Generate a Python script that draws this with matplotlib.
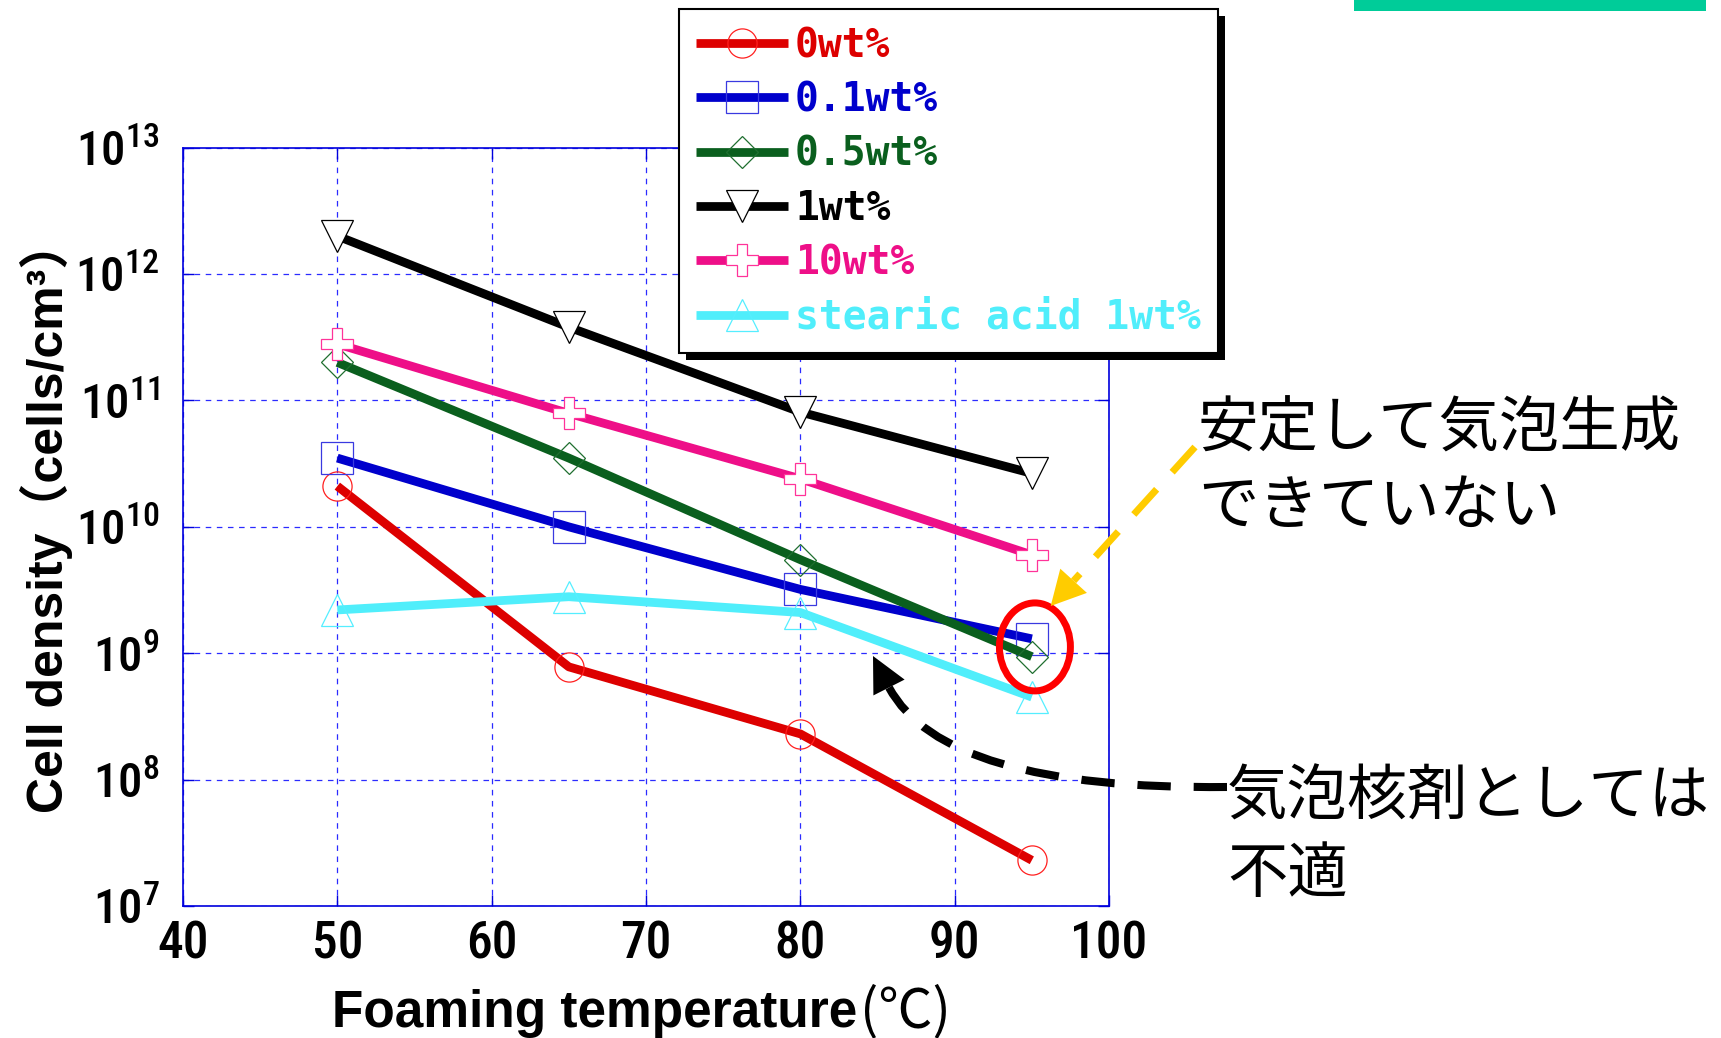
import matplotlib
matplotlib.use("Agg")
import matplotlib.pyplot as plt
from matplotlib import font_manager
from matplotlib.font_manager import FontProperties
from matplotlib.patches import Ellipse, Rectangle, Polygon, PathPatch
from matplotlib.path import Path
from matplotlib.transforms import IdentityTransform
from matplotlib.ticker import NullLocator
import numpy as np

W, H = 1721, 1038
DPI = 100

# ---- data -------------------------------------------------------------
temperature = [50, 65, 80, 95]
series_labels = ["0wt%", "0.1wt%", "0.5wt%", "1wt%", "10wt%", "stearic acid 1wt%"]
density_0wt = [2.1e10, 7.8e8, 2.3e8, 2.3e7]
density_01wt = [3.5e10, 1.0e10, 3.2e9, 1.3e9]
density_05wt = [2.0e11, 3.5e10, 5.5e9, 9.4e8]
density_1wt = [2.0e12, 3.8e11, 8.1e10, 2.65e10]
density_10wt = [2.8e11, 7.9e10, 2.4e10, 6.0e9]
density_stearic = [2.2e9, 2.8e9, 2.1e9, 4.5e8]
series_values = [density_0wt, density_01wt, density_05wt,
                 density_1wt, density_10wt, density_stearic]

x_ticks = [40, 50, 60, 70, 80, 90, 100]
y_ticks = [1e7, 1e8, 1e9, 1e10, 1e11, 1e12, 1e13]

# ---- styles -----------------------------------------------------------
line_colors = ["#DD0000", "#0000CC", "#0A5F1E", "#000000", "#EE0F88", "#50EEFB"]
markers = ["o", "s", "D", "v", "P", "^"]
marker_edges = ["#FF2020", "#3A3AE0", "#1F6F30", "#000000", "#FF3399", "#55EEFF"]
marker_faces = ["none", "none", "none", "white", "white", "none"]
marker_sizes = [21, 23, 16, 23, 23, 23]


def pick_narrow_font():
    """Return (family, stretch) for a condensed sans face if one is installed."""
    entries = font_manager.fontManager.ttflist
    names = {f.name for f in entries}
    for name in ["Liberation Sans Narrow", "Arial Narrow", "Roboto Condensed",
                 "Open Sans Condensed", "DejaVu Sans Condensed", "Noto Sans Condensed"]:
        if name in names:
            return name, "normal"
    for f in entries:
        if f.name in ("DejaVu Sans", "Noto Sans", "Roboto", "Open Sans") and \
                str(f.stretch) in ("condensed", "semi-condensed"):
            return f.name, str(f.stretch)
    for f in entries:
        if "Condensed" in f.name or "Narrow" in f.name:
            return f.name, "normal"
    return "Liberation Sans", "normal"


TICK_FONT, TICK_STRETCH = pick_narrow_font()
JP_FONT = "Noto Sans CJK JP"

plt.rcParams["mathtext.default"] = "regular"
plt.rcParams["lines.scale_dashes"] = False

fig = plt.figure(figsize=(W / DPI, H / DPI), dpi=DPI)
fig.patch.set_facecolor("white")

ax_left, ax_right, ax_top, ax_bottom = 183, 1109, 147.7, 906
ax = fig.add_axes([ax_left / W, (H - ax_bottom) / H,
                   (ax_right - ax_left) / W, (ax_bottom - ax_top) / H])

lines = []
for vals, lab, c, m, me, mf, ms in zip(series_values, series_labels, line_colors,
                                        markers, marker_edges, marker_faces, marker_sizes):
    ln, = ax.plot(temperature, vals, color=c, lw=6.3, label=lab,
                  marker=m, markersize=ms, markerfacecolor=mf,
                  markeredgecolor=me, markeredgewidth=0.9,
                  solid_capstyle="butt", solid_joinstyle="round")
    lines.append(ln)

ax.set_yscale("log")
ax.set_xlim(40, 100)
ax.set_ylim(1e7, 1e13)
ax.set_xticks(x_ticks)
ax.set_yticks(y_ticks)
ax.yaxis.set_minor_locator(NullLocator())

spine_color = "#0000DD"
for sp in ax.spines.values():
    sp.set_color(spine_color)
    sp.set_linewidth(1.2)
ax.grid(True, which="major", color="#2B2BFF", linestyle=(0, (4, 4)), linewidth=0.9)
ax.tick_params(which="major", direction="in", length=8, width=1, color=spine_color,
               top=True, right=True, labelfontfamily=TICK_FONT)
ax.tick_params(axis="x", labelsize=37, pad=10)
ax.tick_params(axis="y", labelsize=35, pad=17)
for lbl in ax.get_xticklabels() + ax.get_yticklabels():
    lbl.set_fontstretch(TICK_STRETCH)
    lbl.set_fontweight("medium")

# ---- axis titles --------------------------------------------------------
fig.text(47 / W, 1 - 516 / H, "Cell density（cells/cm³）", rotation=90,
         ha="center", va="center", fontsize=36, fontweight="bold",
         family=["Liberation Sans", JP_FONT])
fig.text(857 / W, 1 - 1027 / H, "Foaming temperature", ha="right", va="baseline",
         fontsize=37, fontweight="bold", family=["Liberation Sans"])
fig.text(860 / W, 1 - 1027 / H, "(℃)", ha="left", va="baseline",
         fontsize=39, family=[JP_FONT])

# ---- legend -------------------------------------------------------------
leg = fig.legend(lines, series_labels, loc="upper left",
                 bbox_to_anchor=(679 / W, 1 - 9 / H), borderaxespad=0,
                 prop=FontProperties(family="DejaVu Sans Mono", weight="bold", size=28.5),
                 handlelength=2.32, handletextpad=0.18, borderpad=0.43,
                 labelspacing=0.386, fancybox=False, framealpha=1,
                 edgecolor="black", labelcolor="linecolor", numpoints=1)
leg.get_frame().set_linewidth(1.5)

# ---- callouts (display pixel space, y measured from the top) -----------
def px(x, y_top):
    return (x, H - y_top)


def arrow_head(tip, base, half_width, color):
    tip = np.array(px(*tip), float)
    base = np.array(px(*base), float)
    d = tip - base
    n = np.array([-d[1], d[0]]) / np.hypot(*d)
    pts = [tip, base + n * half_width, base - n * half_width]
    return Polygon(pts, closed=True, facecolor=color, edgecolor=color,
                   lw=0, transform=IdentityTransform(), zorder=6)


# ellipse marking the unstable points at 95 ℃
ell_center = ax.transData.transform((95.2, 10 ** 9.05))
ax.add_patch(Ellipse(ell_center, 71, 88, transform=IdentityTransform(),
                     facecolor="none", edgecolor="#FF0000", lw=5, zorder=5,
                     clip_on=False))

# yellow dashed arrow
yellow = "#FFCC00"
y_start, y_base, y_tip = (1195, 447), (1073.6, 580.8), (1050.7, 606)
fig.add_artist(PathPatch(Path([px(*y_start), px(*y_base)]), fill=False,
                         edgecolor=yellow, lw=5, linestyle=(0, (24.5, 16.6)),
                         capstyle="butt", transform=IdentityTransform(), zorder=6))
fig.add_artist(arrow_head(y_tip, y_base, 18, yellow))

# black dashed curved arrow
b_start, b_ctrl, b_base, b_tip = (1227, 787), (944, 790), (889, 687.5), (873, 656)
curve = Path([px(*b_start), px(*b_ctrl), px(*b_base)],
             [Path.MOVETO, Path.CURVE3, Path.CURVE3])
fig.add_artist(PathPatch(curve, fill=False, edgecolor="black", lw=5.8,
                         linestyle=(0, (24, 16.5)), capstyle="butt",
                         transform=IdentityTransform(), zorder=6))
fig.add_artist(arrow_head(b_tip, b_base, 17.5, "black"))

# annotation texts
note_kw = dict(fontsize=43.5, family=[JP_FONT], va="baseline", ha="left", color="black")
fig.text(1198 / W, 1 - 447 / H, "安定して気泡生成", **note_kw)
fig.text(1198 / W, 1 - 524 / H, "できていない", **note_kw)
fig.text(1227 / W, 1 - 815 / H, "気泡核剤としては", **note_kw)
fig.text(1227 / W, 1 - 892 / H, "不適", **note_kw)

# accent bar at the top edge
fig.add_artist(Rectangle(px(1354, 11), 352, 11, facecolor="#00CC99", edgecolor="none",
                         transform=IdentityTransform(), zorder=1))

# hard shadow under the legend frame
fig.canvas.draw()
bb = leg.legendPatch.get_window_extent(fig.canvas.get_renderer())
fig.add_artist(Rectangle((bb.x0 + 7, bb.y0 - 7), bb.width, bb.height,
                         facecolor="black", edgecolor="none",
                         transform=IdentityTransform(), zorder=leg.get_zorder() - 0.1))

fig.savefig("out.png", dpi=DPI)
